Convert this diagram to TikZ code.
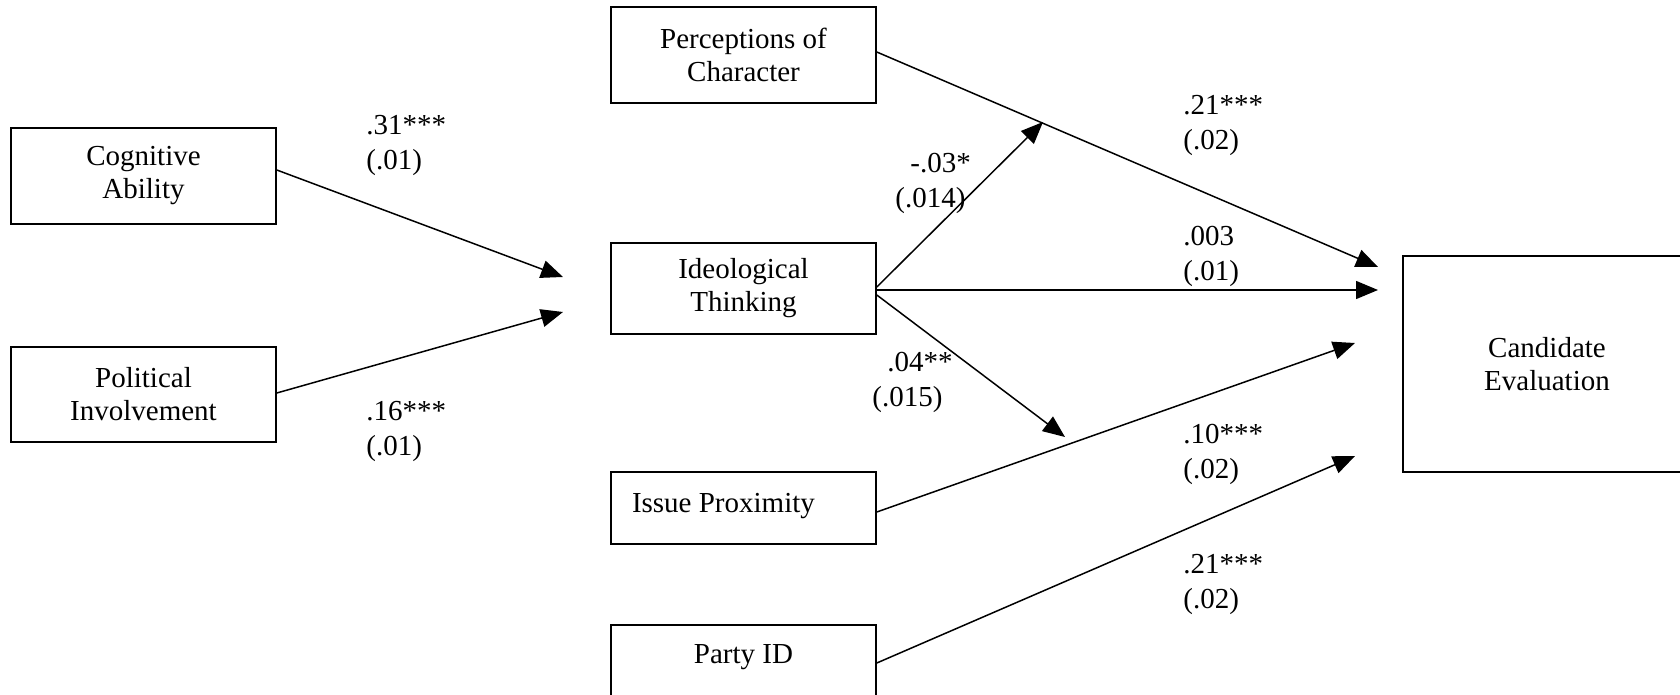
\documentclass[tikz,border=0pt]{standalone}
\usepackage{fontspec}
\setmainfont{Liberation Serif}
\usetikzlibrary{arrows.meta}
\begin{document}
\begin{tikzpicture}[x=0.5pt,y=-0.5pt,
box/.style={draw,line width=0.8pt,rectangle,minimum width=132.5pt,inner sep=0pt,align=center,font=\fontsize{14.5}{16.5}\selectfont},
coef/.style={anchor=west,align=left,inner sep=0pt,font=\fontsize{14.5}{17.5}\selectfont},
link/.style={line width=0.75pt,-{Triangle[length=11pt,width=9pt]}}]
\useasboundingbox (0,0) rectangle (1680,695);
\clip (0,0) rectangle (1680,695);
\node[box,minimum height=48pt] (cog) at (143.5,176) {Cognitive\\Ability};
\node[box,minimum height=47.5pt] (pol) at (143.5,394.5) {Political\\Involvement};
\node[box,minimum height=48pt] (per) at (743.5,55) {Perceptions of\\Character};
\node[box,minimum height=45.5pt] (ide) at (743.5,288.5) {Ideological\\Thinking};
\node[box,minimum height=36pt,inner xsep=10.5pt,text depth=5.5pt] (iss) at (743.5,508) {\makebox[111.5pt][l]{Issue Proximity}};
\node[box,anchor=north,text height=10pt,text depth=40pt,inner ysep=9.3pt] (par) at (743.5,624) {Party ID};
\node[box,minimum width=144pt,minimum height=108pt] (can) at (1547,364) {Candidate\\Evaluation};
\coordinate (cogtip) at (563,277);
\coordinate (poltip) at (563,312);
\coordinate (pertip) at (1378,267);
\coordinate (idetip) at (1378,290);
\coordinate (uptip) at (1043,122);
\coordinate (downtip) at (1065,437);
\coordinate (isstip) at (1355,343);
\coordinate (partip) at (1355,456);
\draw[link] ([yshift=3pt]cog.east) -- (cogtip);
\draw[link] ([yshift=0.75pt]pol.east) -- (poltip);
\draw[link] ([yshift=1.5pt]per.east) -- (pertip);
\draw[link] ([yshift=-0.75pt]ide.east) -- (idetip);
\draw[link] ([yshift=0.75pt]ide.east) -- (uptip);
\draw[link] ([yshift=-3.25pt]ide.east) -- (downtip);
\draw[link] ([yshift=-2pt]iss.east) -- (isstip);
\draw[link] ([yshift=-19.5pt]par.north east) -- (partip);
\node[coef] (cogval) at (366,145.5) {.31***\\(.01)};
\node[coef] (polval) at (366,431.5) {.16***\\(.01)};
\node[coef] (upval) at (895,183.5) {\hspace*{7.5pt}-.03*\\(.014)};
\node[coef] (downval) at (872,382.5) {\hspace*{7.5pt}.04**\\(.015)};
\node[coef] (perval) at (1183,125) {.21***\\(.02)};
\node[coef] (ideval) at (1183,256) {.003\\(.01)};
\node[coef] (issval) at (1183,454.5) {.10***\\(.02)};
\node[coef] (parval) at (1183,584.5) {.21***\\(.02)};
\end{tikzpicture}
\end{document}
